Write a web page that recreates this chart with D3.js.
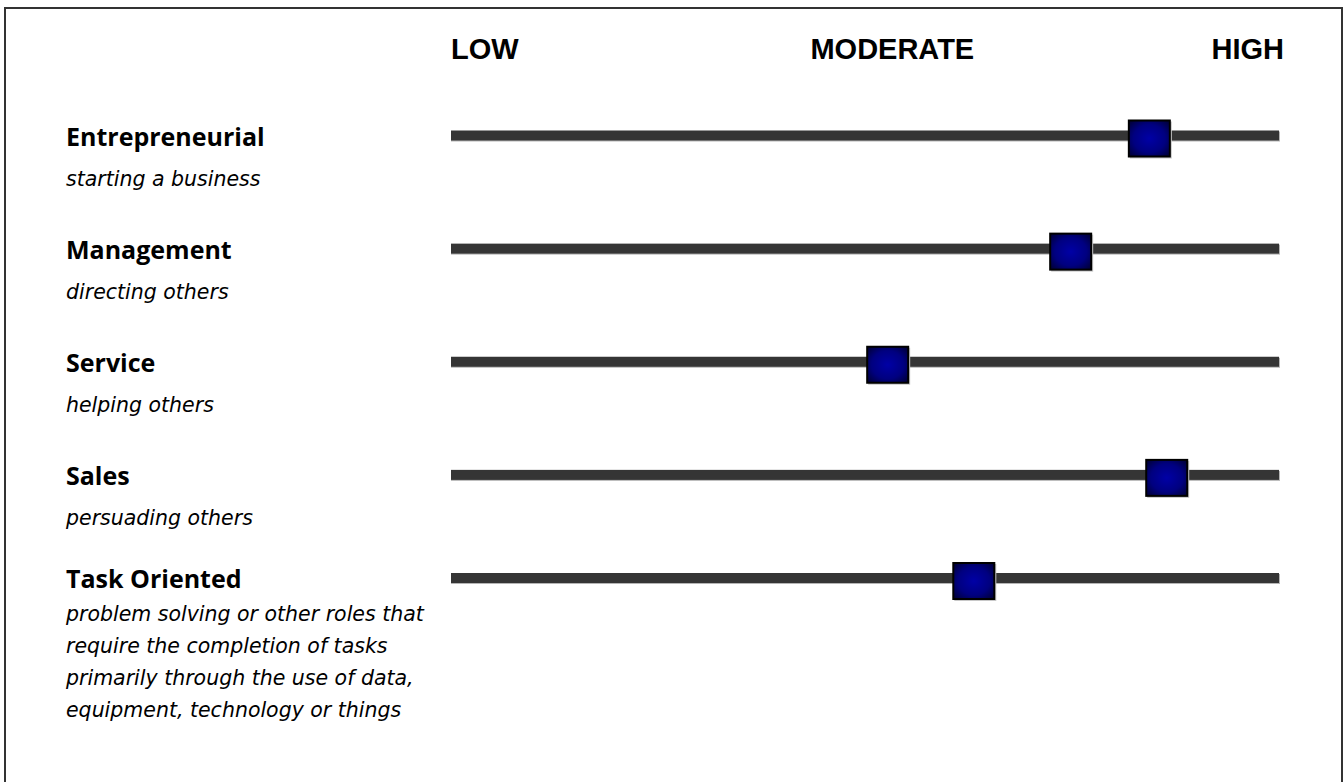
<!DOCTYPE html>
<html>
<head>
<meta charset="utf-8">
<script src="https://cdn.jsdelivr.net/npm/d3@7"></script>
<style>
  body { margin: 0; background: #fff; }
  svg { display: block; }
</style>
</head>
<body>
<div id="chart"></div>
<script>
var categories = ["Entrepreneurial", "Management", "Service", "Sales", "Task Oriented"];
var descriptions = [
    ["starting a business"],
    ["directing others"],
    ["helping others"],
    ["persuading others"],
    ["problem solving or other roles that",
     "require the completion of tasks",
     "primarily through the use of data,",
     "equipment, technology or things"]
];
var scores = [84.4, 74.9, 52.8, 86.5, 63.2];
var levelLabels = ["LOW", "MODERATE", "HIGH"];
var levelValues = [0, 53.3, 100.6];

function init(){
    var w = 1344;
    var h = 782;

    var xscale = d3.scaleLinear()
                    .domain([0, 100])
                    .range([451, 1279]);

    var yscale = d3.scalePoint()
                    .domain(categories)
                    .range([135.5, 588]);

    // the last row sits a bit higher in the original layout
    function rowY(d, i) {
        return yscale(d) - (i === categories.length - 1 ? 10 : 0);
    }

    var svg = d3.select("#chart")
                .append("svg")
                .attr("width", w)
                .attr("height", h);

    var defs = svg.append("defs");
    var grad = defs.append("radialGradient")
                .attr("id", "boxFill")
                .attr("cx", "50%").attr("cy", "50%").attr("r", "65%");
    grad.append("stop").attr("offset", "0%").attr("stop-color", "#0000a6");
    grad.append("stop").attr("offset", "60%").attr("stop-color", "#000080");
    grad.append("stop").attr("offset", "100%").attr("stop-color", "#00003c");

    // frame
    svg.append("rect")
        .attr("x", 5)
        .attr("y", 8)
        .attr("width", 1337)
        .attr("height", 800)
        .attr("fill", "none")
        .attr("stroke", "#333")
        .attr("stroke-width", 2);

    // level labels along the top
    svg.selectAll("text.level")
        .data(levelLabels)
        .enter()
        .append("text")
        .attr("class", "level")
        .text(function(d) { return d; })
        .attr("x", function(d, i) { return xscale(levelValues[i]); })
        .attr("y", 59)
        .attr("text-anchor", function(d, i) {
            return i === 0 ? "start" : (i === levelLabels.length - 1 ? "end" : "middle");
        })
        .style("font-family", "'Liberation Sans', Arial, sans-serif")
        .style("font-weight", "bold")
        .style("font-size", "29px")
        .attr("fill", "#000");

    var rows = svg.selectAll("g.row")
        .data(categories)
        .enter()
        .append("g")
        .attr("class", "row")
        .attr("transform", function(d, i) { return "translate(0," + rowY(d, i) + ")"; });

    // track shadow + track
    rows.append("rect")
        .attr("x", xscale(0))
        .attr("y", -4)
        .attr("width", xscale(100) - xscale(0) + 1)
        .attr("height", 10)
        .attr("fill", "#b5b5b5");
    rows.append("rect")
        .attr("x", xscale(0))
        .attr("y", -5)
        .attr("width", xscale(100) - xscale(0))
        .attr("height", 10)
        .attr("fill", "#353535");

    // marker shadow + marker
    rows.append("rect")
        .attr("x", function(d, i) { return xscale(scores[i]) - 20; })
        .attr("y", -14)
        .attr("width", 42)
        .attr("height", 37)
        .attr("fill", "#c8c8c8");
    rows.append("rect")
        .attr("x", function(d, i) { return xscale(scores[i]) - 21; })
        .attr("y", -15)
        .attr("width", 41)
        .attr("height", 36)
        .attr("fill", "url(#boxFill)")
        .attr("stroke", "#000")
        .attr("stroke-width", 2);

    // category names
    rows.append("text")
        .text(function(d) { return d; })
        .attr("x", 66)
        .attr("y", 10)
        .style("font-family", "'Open Sans', 'Noto Sans', sans-serif")
        .style("font-weight", "bold")
        .style("font-size", "25px")
        .attr("fill", "#000");

    // descriptions
    rows.each(function(d, i) {
        var first = i === categories.length - 1 ? 35 : 42;
        d3.select(this).selectAll("text.desc")
            .data(descriptions[i])
            .enter()
            .append("text")
            .attr("class", "desc")
            .text(function(t) { return t; })
            .attr("x", 66)
            .attr("y", function(t, j) { return 8 + first + j * 32; })
            .style("font-family", "'DejaVu Sans', Verdana, sans-serif")
            .style("font-style", "italic")
            .style("font-size", "20.5px")
            .attr("fill", "#000");
    });
}
window.onload = init;
</script>
</body>
</html>
